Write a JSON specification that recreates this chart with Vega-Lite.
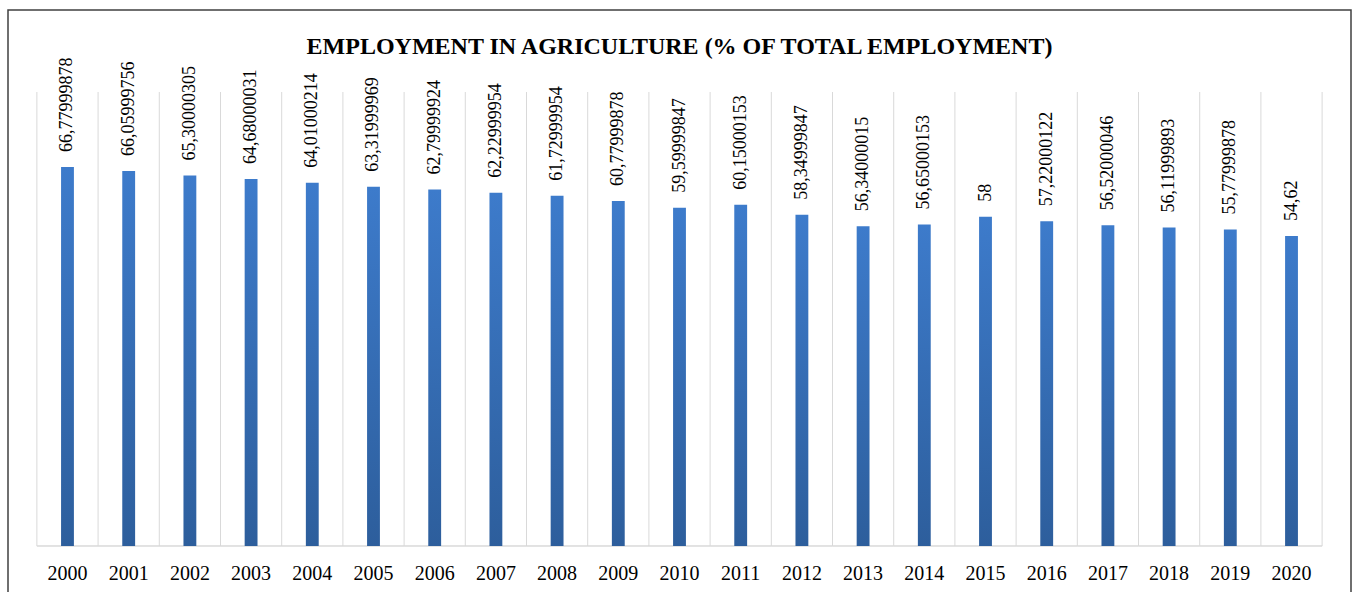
{
  "$schema": "https://vega.github.io/schema/vega-lite/v6.json",
  "width": 1343,
  "height": 590,
  "autosize": {"type": "none"},
  "padding": {"left": 8, "top": 10, "right": 3, "bottom": 0},
  "background": "#ffffff",
  "title": {
    "text": "EMPLOYMENT IN AGRICULTURE (% OF TOTAL EMPLOYMENT)",
    "anchor": "middle",
    "frame": "group",
    "offset": -68,
    "baseline": "alphabetic",
    "font": "Liberation Serif",
    "fontSize": 24,
    "fontWeight": "bold",
    "color": "#000000"
  },
  "data": {
    "values": [
      {"year": "2000", "value": 66.77999878},
      {"year": "2001", "value": 66.05999756},
      {"year": "2002", "value": 65.30000305},
      {"year": "2003", "value": 64.68000031},
      {"year": "2004", "value": 64.01000214},
      {"year": "2005", "value": 63.31999969},
      {"year": "2006", "value": 62.79999924},
      {"year": "2007", "value": 62.22999954},
      {"year": "2008", "value": 61.72999954},
      {"year": "2009", "value": 60.77999878},
      {"year": "2010", "value": 59.59999847},
      {"year": "2011", "value": 60.15000153},
      {"year": "2012", "value": 58.34999847},
      {"year": "2013", "value": 56.34000015},
      {"year": "2014", "value": 56.65000153},
      {"year": "2015", "value": 58},
      {"year": "2016", "value": 57.22000122},
      {"year": "2017", "value": 56.52000046},
      {"year": "2018", "value": 56.11999893},
      {"year": "2019", "value": 55.77999878},
      {"year": "2020", "value": 54.62}
    ]
  },
  "layer": [
    {
      "mark": {"type": "rule", "color": "#d9d9d9", "strokeWidth": 1},
      "encoding": {
        "x": {"field": "year", "type": "ordinal", "bandPosition": 0, "title": null,
              "scale": {"paddingInner": 0, "paddingOuter": 0.472}},
        "y": {"datum": 80, "type": "quantitative", "axis": null,
              "scale": {"domain": [-9.515, 94.449], "nice": false, "zero": false}},
        "y2": {"datum": 0}
      }
    },
    {
      "transform": [{"filter": "datum.year == '2020'"}],
      "mark": {"type": "rule", "color": "#d9d9d9", "strokeWidth": 1},
      "encoding": {
        "x": {"field": "year", "type": "ordinal", "bandPosition": 1, "title": null},
        "y": {"datum": 80, "type": "quantitative", "axis": null},
        "y2": {"datum": 0}
      }
    },
    {
      "mark": {"type": "rect", "fill": null, "stroke": "#d9d9d9", "strokeWidth": 1},
      "encoding": {
        "x": {"field": "year", "type": "ordinal", "title": null},
        "y": {"datum": 0, "type": "quantitative", "axis": null},
        "y2": {"datum": 0}
      }
    },
    {
      "mark": {
        "type": "bar",
        "width": {"band": 0.21},
        "color": {
          "gradient": "linear",
          "x1": 0, "y1": 0, "x2": 0, "y2": 1,
          "stops": [
            {"offset": 0, "color": "#3d7bcb"},
            {"offset": 1, "color": "#2d5e9c"}
          ]
        }
      },
      "encoding": {
        "x": {"field": "year", "type": "ordinal", "title": null},
        "y": {"field": "value", "type": "quantitative", "axis": null},
        "y2": {"datum": 0}
      }
    },
    {
      "mark": {
        "type": "text",
        "angle": 270,
        "align": "left",
        "baseline": "middle",
        "dx": 15,
        "font": "Liberation Serif",
        "fontSize": 18,
        "color": "#000000"
      },
      "encoding": {
        "x": {"field": "year", "type": "ordinal", "title": null},
        "y": {"field": "value", "type": "quantitative", "axis": null},
        "text": {"field": "value", "type": "quantitative", "format": ""}
      }
    }
  ],
  "config": {
    "locale": {
      "number": {"decimal": ",", "thousands": ".", "grouping": [3], "currency": ["", "\u20ac"]}
    },
    "view": {"stroke": "#404040", "strokeWidth": 1.5},
    "axisX": {
      "offset": -54,
      "domain": false,
      "ticks": false,
      "tickSize": 0,
      "grid": false,
      "labelAngle": 0,
      "labelPadding": 17,
      "labelFont": "Liberation Serif",
      "labelFontSize": 20,
      "labelColor": "#000000"
    }
  }
}
